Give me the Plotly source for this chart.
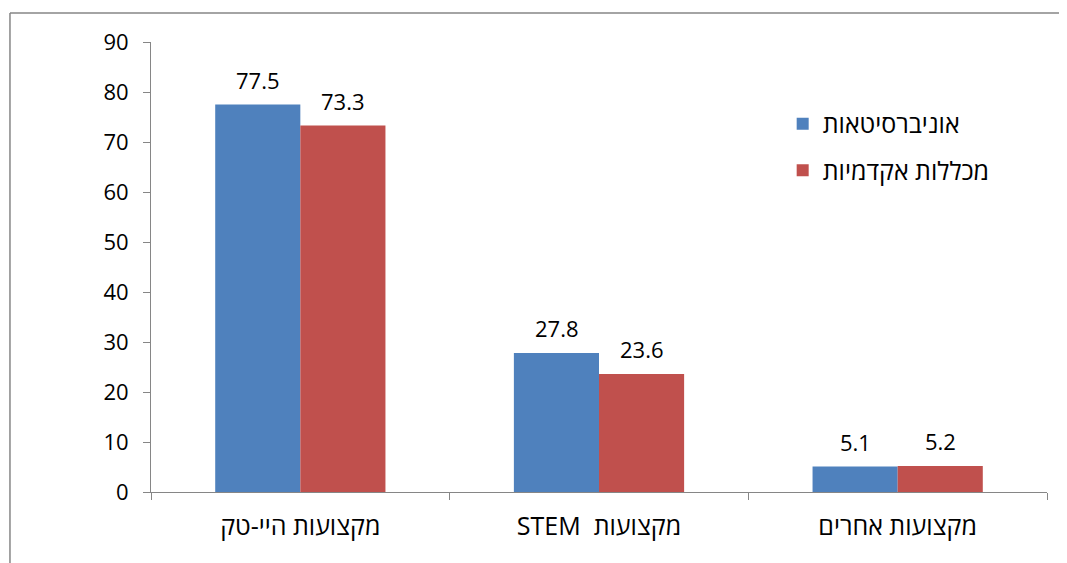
import plotly.graph_objects as go

categories = ["מקצועות היי-טק", "STEM  מקצועות", "מקצועות אחרים"]
series_names = ["אוניברסיטאות", "מכללות אקדמיות"]
universities = [77.5, 27.8, 5.1]
colleges = [73.3, 23.6, 5.2]
y_ticks = [0, 10, 20, 30, 40, 50, 60, 70, 80, 90]

BLUE = "#4F81BD"
RED = "#C0504D"
GRAY = "#868686"
FONT = "Open Sans, DejaVu Sans, sans-serif"

fig = go.Figure()
fig.add_trace(go.Bar(x=categories, y=universities, name=series_names[0],
                     marker=dict(color=BLUE, line=dict(width=0)),
                     legendgroup="a"))
fig.add_trace(go.Bar(x=categories, y=colleges, name=series_names[1],
                     marker=dict(color=RED, line=dict(width=0)),
                     legendgroup="b"))

annotations = []
for vals, shift in ((universities, -42.5), (colleges, 42.5)):
    for c, v in zip(categories, vals):
        annotations.append(dict(x=c, y=v, xref="x", yref="y", text=f"{v:.1f}",
                                showarrow=False, xshift=shift, yshift=25,
                                yanchor="middle", font=dict(size=22, color="#000000", family=FONT)))

fig.update_layout(
    width=1059, height=555,
    margin=dict(l=143, r=20, t=34, b=71),
    paper_bgcolor="white", plot_bgcolor="white",
    barmode="group", bargap=0.43, bargroupgap=0,
    font=dict(family=FONT, size=22, color="#000000"),
    showlegend=True,
    legend=dict(x=0.705, y=0.869, xanchor="left", yanchor="top",
                font=dict(size=25, family=FONT), tracegroupgap=11,
                bgcolor="rgba(0,0,0,0)"),
    annotations=annotations,
    xaxis=dict(showgrid=False, showline=True, linecolor=GRAY, linewidth=1,
               ticks="outside", tickson="boundaries", ticklen=7, tickcolor=GRAY,
               ticklabelstandoff=12, tickfont=dict(size=25)),
    yaxis=dict(range=[0, 90], tickvals=y_ticks, showgrid=False, zeroline=False,
               showline=True, linecolor=GRAY, linewidth=1,
               ticks="outside", ticklen=7, tickcolor=GRAY, ticklabelstandoff=10,
               tickfont=dict(size=22)),
    shapes=[
        dict(type="line", xref="paper", yref="paper", x0=-0.1574, x1=1.1, y0=1.0644, y1=1.0644,
             line=dict(color=GRAY, width=1.5)),
        dict(type="line", xref="paper", yref="paper", x0=-0.1574, x1=-0.1574, y0=-0.3, y1=1.0644,
             line=dict(color=GRAY, width=1.5)),
    ],
)

fig.write_html("out.html")
